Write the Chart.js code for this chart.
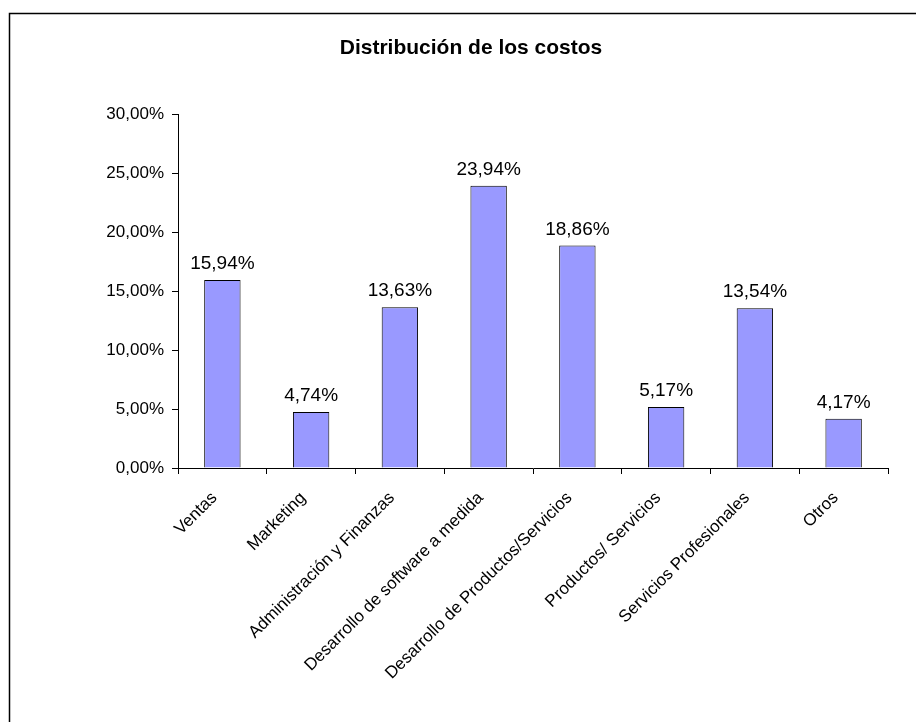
<!DOCTYPE html>
<html>
<head>
<meta charset="utf-8">
<script src="https://cdn.jsdelivr.net/npm/chart.js@4.4.0/dist/chart.umd.min.js"></script>
<style>
    body { margin: 0; background: #fff; }
    canvas { display: block; }
</style>
</head>
<body>
<canvas id="costChart" width="916" height="722"></canvas>
<script>
// Cost categories and their share of the total (percent)
const categories = [
    'Ventas',
    'Marketing',
    'Administración y Finanzas',
    'Desarrollo de software a medida',
    'Desarrollo de Productos/Servicios',
    'Productos/ Servicios',
    'Servicios Profesionales',
    'Otros'
];
const shares = [15.94, 4.74, 13.63, 23.94, 18.86, 5.17, 13.54, 4.17];

// Axis range for the percent scale
const yMin = 0;
const yMax = 30;
const yStep = 5;

const FONT = "'Liberation Sans', Arial, Helvetica, sans-serif";

// 15.94 -> "15,94%"
function pct(v) {
    return v.toFixed(2).replace('.', ',') + '%';
}

// Frame lines along the top and left edge of the page
const framePlugin = {
    id: 'frame',
    beforeDraw(chart) {
        const ctx = chart.ctx;
        ctx.save();
        ctx.fillStyle = '#fff';
        ctx.fillRect(0, 0, chart.width, chart.height);
        ctx.strokeStyle = '#000';
        ctx.lineWidth = 1.5;
        ctx.beginPath();
        ctx.moveTo(chart.width, 13.5);
        ctx.lineTo(9.5, 13.5);
        ctx.lineTo(9.5, chart.height);
        ctx.stroke();
        ctx.restore();
    }
};

// Value labels above each bar
const valueLabels = {
    id: 'valueLabels',
    afterDatasetsDraw(chart) {
        const ctx = chart.ctx;
        const meta = chart.getDatasetMeta(0);
        ctx.save();
        ctx.font = '19px ' + FONT;
        ctx.fillStyle = '#000';
        ctx.textAlign = 'center';
        ctx.textBaseline = 'alphabetic';
        meta.data.forEach((bar, i) => {
            ctx.fillText(pct(shares[i]), bar.x, bar.y - 11);
        });
        ctx.restore();
    }
};

new Chart(document.getElementById('costChart'), {
    type: 'bar',
    data: {
        labels: categories,
        datasets: [{
            data: shares,
            backgroundColor: '#9999FF',
            borderColor: '#000',
            borderWidth: 1,
            categoryPercentage: 1,
            barPercentage: 0.41
        }]
    },
    options: {
        responsive: false,
        animation: false,
        layout: {
            padding: { left: 54, right: 28, top: 0, bottom: 0 }
        },
        plugins: {
            legend: { display: false },
            tooltip: { enabled: false },
            title: {
                display: true,
                text: 'Distribución de los costos',
                color: '#000',
                font: { family: FONT, size: 21, weight: 'bold' },
                padding: { top: 36, bottom: 53 }
            }
        },
        scales: {
            x: {
                afterFit(scale) { scale.height = 254; },
                border: { color: '#000', width: 1 },
                grid: {
                    offset: true,
                    drawOnChartArea: false,
                    tickLength: 6,
                    tickColor: '#000'
                },
                ticks: {
                    color: '#000',
                    font: { family: FONT, size: 17 },
                    minRotation: 45,
                    maxRotation: 45,
                    autoSkip: false,
                    padding: 14,
                    labelOffset: -8
                }
            },
            y: {
                min: yMin,
                max: yMax,
                afterFit(scale) { scale.width = 124; },
                border: { color: '#000', width: 1 },
                grid: {
                    drawOnChartArea: false,
                    tickLength: 6,
                    tickColor: '#000'
                },
                ticks: {
                    stepSize: yStep,
                    color: '#000',
                    font: { family: FONT, size: 17 },
                    padding: 8,
                    callback: v => pct(v)
                }
            }
        }
    },
    plugins: [framePlugin, valueLabels]
});
</script>
</body>
</html>
